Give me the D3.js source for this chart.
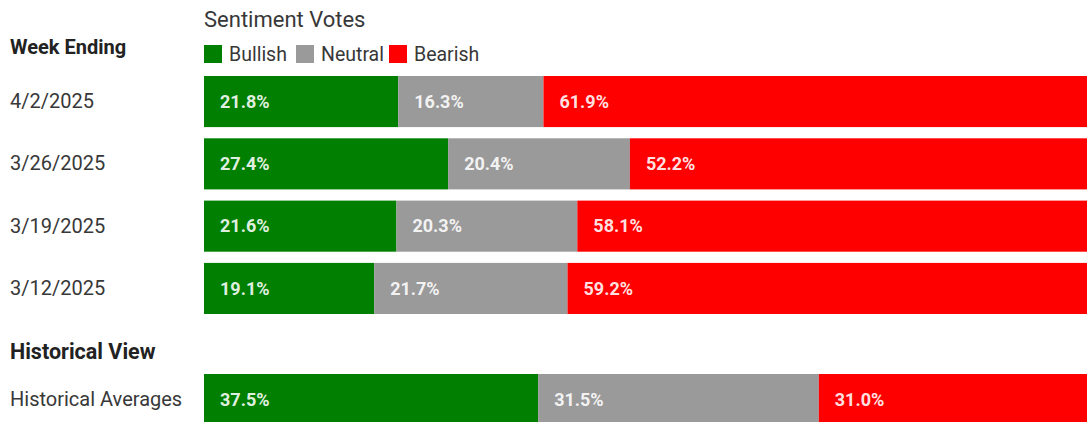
<!DOCTYPE html>
<html>
<head>
<meta charset="utf-8">
<script src="https://cdn.jsdelivr.net/npm/d3@7"></script>
<style>
  body { margin: 0; background: #fff; overflow: hidden; }
  text { font-family: Roboto, "Noto Sans", sans-serif; }
  .rowLabel { fill: #383838; font-size: 20px; }
  .head { fill: #222; font-size: 20px; font-weight: bold; }
  .title { fill: #383838; font-size: 22px; }
  .legendText { fill: #383838; font-size: 19.5px; }
  .val { fill: #fff; fill-opacity: 0.9; font-size: 18px; font-weight: bold; }
</style>
</head>
<body>
<div id="chart"></div>
<script>
var weeks = ["4/2/2025", "3/26/2025", "3/19/2025", "3/12/2025"];
var bullish = [21.8, 27.4, 21.6, 19.1];
var neutral = [16.3, 20.4, 20.3, 21.7];
var bearish = [61.9, 52.2, 58.1, 59.2];

var histLabel = ["Historical Averages"];
var histBullish = [37.5];
var histNeutral = [31.5];
var histBearish = [31.0];

var keys = ["Bullish", "Neutral", "Bearish"];
var colors = ["#007f00", "#9a9a9a", "#ff0000"];

function init(){

    var w = 1087;
    var h = 422;

    var svg = d3.select("#chart")
                .append("svg")
                .attr("width", w)
                .attr("height", h);

    var xScale = d3.scaleLinear()
                .domain([0, 100])
                .range([204, 1095]);

    var color = d3.scaleOrdinal()
                .domain(keys)
                .range(colors);

    var weekRows = weeks.map(function(d, i) {
        return { label: d, Bullish: bullish[i], Neutral: neutral[i], Bearish: bearish[i] };
    });
    var histRows = histLabel.map(function(d, i) {
        return { label: d, Bullish: histBullish[i], Neutral: histNeutral[i], Bearish: histBearish[i] };
    });

    var yWeeks = d3.scaleBand()
                .domain(weeks)
                .range([76, 314])
                .paddingInner(0.18);

    var yHist = d3.scaleBand()
                .domain(histLabel)
                .range([374, 425]);

    var stack = d3.stack().keys(keys);

    function drawGroup(rows, yScale) {
        var g = svg.append("g");
        var layers = g.selectAll("g.layer")
            .data(stack(rows))
            .enter().append("g")
            .attr("class", "layer")
            .attr("fill", function(d) { return color(d.key); });

        layers.selectAll("rect")
            .data(function(d) { return d; })
            .enter().append("rect")
            .attr("x", function(d) { return xScale(d[0]); })
            .attr("y", function(d) { return yScale(d.data.label); })
            .attr("width", function(d) { return xScale(d[1]) - xScale(d[0]); })
            .attr("height", yScale.bandwidth());

        layers.selectAll("text")
            .data(function(d) { return d; })
            .enter().append("text")
            .attr("class", "val")
            .attr("x", function(d) { return xScale(d[0]) + 16; })
            .attr("y", function(d) { return yScale(d.data.label) + yScale.bandwidth() / 2; })
            .attr("dy", "0.35em")
            .text(function(d) { return (d[1] - d[0]).toFixed(1) + "%"; });

        // row labels on the left
        var yAxis = d3.axisLeft(yScale).tickSize(0).tickPadding(0);
        var ax = svg.append("g")
            .attr("transform", "translate(10,0)")
            .call(yAxis);
        ax.select(".domain").remove();
        ax.selectAll("text")
            .attr("class", "rowLabel")
            .attr("text-anchor", "start")
            .attr("x", 0)
            .attr("fill", null)
            .attr("font-size", null)
            .attr("font-family", null);
    }

    drawGroup(weekRows, yWeeks);
    drawGroup(histRows, yHist);

    // headings
    svg.append("text").attr("class", "head").attr("x", 10).attr("y", 54).text("Week Ending");
    svg.append("text").attr("class", "head").attr("x", 10).attr("y", 359)
        .style("font-size", "21.5px").text("Historical View");
    svg.append("text").attr("class", "title").attr("x", 204).attr("y", 27).text("Sentiment Votes");

    // legend
    var legendX = [204, 296, 389];
    var legend = svg.selectAll("g.legend")
        .data(keys)
        .enter().append("g")
        .attr("class", "legend")
        .attr("transform", function(d, i) { return "translate(" + legendX[i] + ",45)"; });

    legend.append("rect")
        .attr("width", 18)
        .attr("height", 18)
        .attr("fill", function(d) { return color(d); });

    legend.append("text")
        .attr("class", "legendText")
        .attr("x", 25)
        .attr("y", 9)
        .attr("dy", "0.35em")
        .text(function(d) { return d; });
}
window.onload = init;
</script>
</body>
</html>
